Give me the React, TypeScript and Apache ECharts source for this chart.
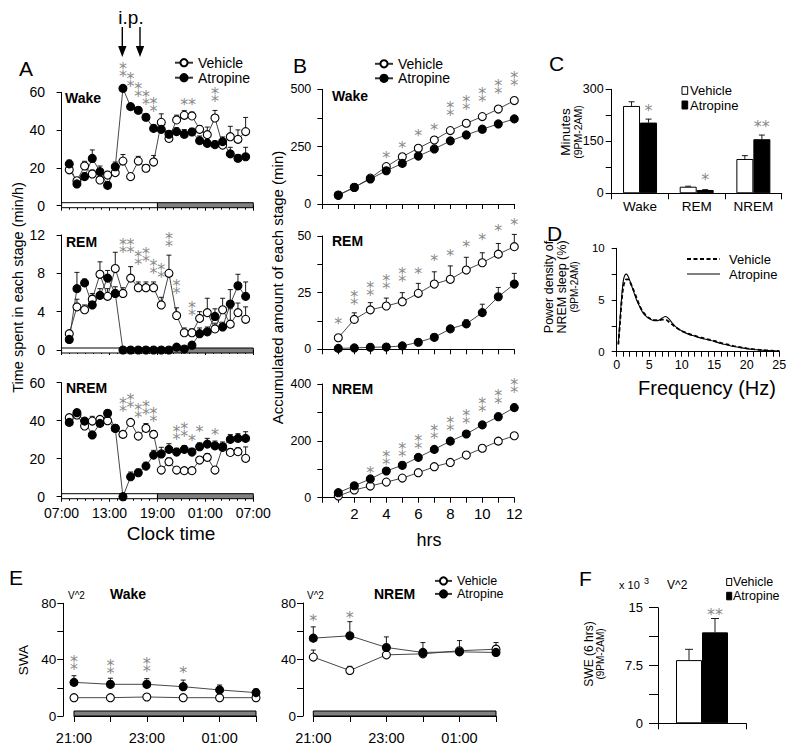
import React, { useEffect, useRef } from 'react';
import * as echarts from 'echarts';

const FONT = '"Liberation Sans", Arial, Helvetica, sans-serif';
const STAR_FONT = '"DejaVu Sans", "Liberation Sans", sans-serif';
const S = '*';
const P = '\u2051';
const PH = '**';

// ---------------- Panel A: hourly amounts (index 1..24 after 07:00) ----------------
const aHours = [1, 2, 3, 4, 5, 6, 7, 8, 9, 10, 11, 12, 13, 14, 15, 16, 17, 18, 19, 20, 21, 22, 23, 24];
const clockLabels = ['07:00', '13:00', '19:00', '01:00', '07:00'];
const aLightDark = [[0, 12.5, 0], [12.5, 25, 1]];

const aWakeVeh = [19, 13.2, 21, 16.8, 13.6, 16.2, 17.5, 23.6, 15.4, 23.6, 19.8, 23.1, 44.1, 35.6, 45.4, 47.8, 47.5, 40.4, 37.6, 46.4, 32.1, 36.5, 35.1, 39.2];
const aWakeVehErr = [1.5, 1, 2.5, 2, 2, 2, 1.5, 3.5, 1.5, 2.5, 2, 3.5, 4.5, 2, 2.5, 2.5, 2, 2, 4, 4, 2, 5.5, 5, 7.5];
const aWakeAtr = [22.1, 11.5, 15.4, 25, 18, 10.8, 20.6, 62.1, 52.4, 50.5, 46.8, 40.9, 40.4, 37.8, 39.2, 37.8, 39, 34.4, 33, 32.3, 33.9, 27.4, 25.1, 25.9];
const aWakeAtrErr = [2, 1.5, 2, 4.5, 3, 1.5, 2.5, 1.5, 1.5, 1.5, 1.5, 2, 3, 2, 2, 2.5, 2, 2.5, 2, 2, 2.5, 3.5, 2, 5];
const aWakeStars = [[8, 71.3, P], [9, 66.2, P], [10, 60.7, P], [11, 56.8, P], [12, 52.8, P], [16, 55.9, S], [17, 55.9, S], [20, 58.2, P]];

const aRemVeh = [1.7, 4.5, 4.2, 5.3, 7.9, 5.6, 8.5, 5.9, 7.5, 6.5, 6.5, 6.5, 4.7, 8.0, 3.6, 1.8, 1.8, 3.3, 3.9, 2.2, 4.2, 2.7, 3.9, 3.2];
const aRemVehErr = [0.3, 0.8, 0.5, 0.6, 1.3, 0.8, 1.7, 0.6, 1.2, 0.6, 0.6, 0.6, 0.8, 1.9, 0.8, 0.5, 0.4, 0.7, 1.5, 0.6, 1.2, 1.6, 1.0, 1.3];
const aRemAtr = [1.1, 6.4, 7.0, 4.7, 5.7, 7.5, 5.9, 0, 0, 0, 0, 0, 0, 0, 0.3, 0.1, 0.5, 1.7, 1.9, 3.5, 2.4, 4.8, 6.7, 5.6];
const aRemAtrErr = [0.3, 1.7, 0.4, 1.0, 0.7, 0.8, 0.7, 0, 0, 0, 0, 0, 0, 0, 0.2, 0.1, 0.3, 0.6, 0.5, 0.8, 0.5, 1.5, 1.2, 1.5];
const aRemStars = [[8, 10.8, P], [9, 10.8, P], [10, 9.6, P], [11, 9.9, P], [12, 8.6, P], [13, 8.2, P], [14, 11.4, P], [15, 6.5, P], [17, 4.2, P]];

const aNremVeh = [41.6, 43, 37.2, 39.8, 40.7, 40, 36, 32.8, 39.1, 31.9, 36, 32.8, 14, 18.4, 14, 13.7, 13.7, 19.3, 20.7, 14, 26, 23.3, 23.7, 20.2];
const aNremVehErr = [1.5, 1.5, 1.5, 2.5, 1.5, 1.5, 1.5, 1.5, 1.5, 1.5, 2.5, 2, 1.5, 2, 1.5, 1.5, 1.5, 1.5, 2, 1.5, 2, 2, 2, 6];
const aNremAtr = [39.1, 44.2, 39.8, 32.5, 38.6, 43.9, 36, 0, 10.5, 12.6, 16.1, 21.9, 22.5, 24.9, 23.5, 24.9, 23.5, 26.3, 27.7, 26.8, 26.3, 30.2, 30.7, 30.7];
const aNremAtrErr = [1.5, 1, 1.5, 1.5, 1.5, 1, 1.5, 0, 2.5, 2, 2, 2.5, 3.5, 3, 2, 2, 2, 2, 3, 2.5, 2.5, 2.5, 2.5, 3.5];
const aNremStars = [[8, 48.2, P], [9, 50, P], [10, 44.7, P], [11, 46.5, P], [12, 43, P], [15, 33.3, P], [16, 35.1, P], [17, 31.9, S], [18, 36.5, S], [20, 34.7, S]];

// ---------------- Panel B: accumulated amounts ----------------
const bHours = [1, 2, 3, 4, 5, 6, 7, 8, 9, 10, 11, 12];
const bWakeVeh = [38, 72, 113, 163, 206, 243, 279, 320, 352, 381, 414, 451];
const bWakeVehErr = [3, 4, 5, 6, 6, 7, 8, 8, 9, 10, 10, 11];
const bWakeAtr = [39, 73, 109, 145, 177, 209, 240, 275, 301, 326, 349, 371];
const bWakeAtrErr = [3, 4, 5, 6, 6, 7, 8, 8, 9, 10, 10, 11];
const bWakeStars = [[4, 221, S], [5, 265, S], [6, 315, S], [7, 344, S], [8, 410, P], [9, 436, P], [10, 475, P], [11, 509, P], [12, 544, P]];

const bRemVeh = [5.1, 13.2, 17.4, 19.1, 21, 24.7, 28.8, 30.9, 35, 38.2, 42, 45.3];
const bRemVehErr = [0, 2.9, 3.2, 3.5, 4, 4.4, 5.4, 5.9, 5.6, 4.4, 4.7, 5.4];
const bRemAtr = [0.4, 0.6, 0.9, 1.0, 1.5, 3.1, 5.3, 9.0, 11.2, 16.2, 23.2, 28.8];
const bRemAtrErr = [0, 0, 0, 0, 0.3, 0.5, 0.6, 1.3, 1.8, 3.7, 4.1, 4.7];
const bRemStars = [[1, 13.2, S], [2, 22.5, P], [3, 26.2, P], [4, 29.6, P], [5, 32.5, P], [6, 35, S], [7, 40.9, S], [8, 43, S], [9, 47, S], [10, 50.4, S], [11, 54, S], [12, 57, S]];

const bNremVeh = [6, 27, 41, 55, 69, 88, 109, 124, 150, 174, 199, 218];
const bNremVehErr = [2, 3, 4, 4, 5, 6, 6, 7, 8, 8, 9, 9];
const bNremAtr = [17.6, 42, 66, 94, 114, 142, 170, 199, 224, 256, 285, 317];
const bNremAtrErr = [3, 4, 5, 6, 7, 8, 8, 9, 10, 11, 12, 12];
const bNremStars = [[3, 103, S], [4, 137, P], [5, 165, P], [6, 195, P], [7, 230, P], [8, 259, P], [9, 283, P], [10, 324, P], [11, 353, P], [12, 390, P]];

// ---------------- Panel C: minutes 9PM-2AM ----------------
const cCats = ['Wake', 'REM', 'NREM'];
const cVeh = [252, 19, 99];
const cVehErr = [12, 1.5, 9.6];
const cAtr = [204, 9.6, 156];
const cAtrErr = [10, 1, 12];
const cStars = [['Wake', 250, S], ['REM', 50, S], ['NREM', 204, PH]];

// ---------------- Panel D: NREM power spectrum ----------------
const dFreq = [0.25, 0.5, 0.75, 1, 1.25, 1.5, 1.75, 2, 2.5, 3, 3.5, 4, 4.5, 5, 5.5, 6, 6.5, 7, 7.5, 8, 8.5, 9, 10, 11, 12, 13, 14, 15, 16, 17, 18, 19, 20, 21, 22, 23, 24, 25];
const dVeh = [0.7, 2.7, 4.8, 6.2, 6.8, 7.0, 7.0, 6.8, 6.1, 5.3, 4.5, 3.9, 3.5, 3.25, 3.1, 3.05, 3.05, 3.1, 3.1, 2.9, 2.65, 2.4, 2.0, 1.75, 1.55, 1.35, 1.2, 1.05, 0.85, 0.7, 0.55, 0.43, 0.33, 0.25, 0.18, 0.13, 0.09, 0.07];
const dAtr = [0.8, 3.0, 5.2, 6.8, 7.4, 7.5, 7.3, 6.9, 6.0, 5.1, 4.4, 3.8, 3.45, 3.2, 3.05, 3.0, 3.05, 3.25, 3.4, 3.2, 2.8, 2.45, 2.0, 1.7, 1.5, 1.3, 1.15, 1.0, 0.8, 0.65, 0.5, 0.4, 0.3, 0.22, 0.16, 0.12, 0.08, 0.06];

// ---------------- Panel E: SWA ----------------
const eHours = [21, 22, 23, 24, 25, 26];
const eHourLabels = ['21:00', '', '23:00', '', '01:00', ''];
const eDark = [[21, 26, 1]];
const eWakeVeh = [13, 13, 13.5, 13, 13, 13];
const eWakeVehErr = [1, 1, 1, 1, 1, 1];
const eWakeAtr = [23.9, 22.5, 22.5, 20.8, 18.5, 16.6];
const eWakeAtrErr = [4.7, 4.3, 4, 4.7, 3.5, 2.6];
const eWakeStars = [[21, 37, P], [22, 34.5, P], [23, 35.7, P], [24, 33.4, S]];
const eNremVeh = [41.7, 32.2, 43.3, 44, 46.2, 47.3];
const eNremVehErr = [5, 3, 2, 2, 2, 2];
const eNremAtr = [55.1, 56.8, 48.5, 45, 45.4, 45];
const eNremAtrErr = [8, 10, 7.5, 7, 8, 7];
const eNremStars = [[21, 70.5, S], [22, 72.4, S]];

// ---------------- Panel F: SWE ----------------
const fCats = ['SWE'];
const fVeh = [8.2];
const fVehErr = [1.4];
const fAtr = [11.8];
const fAtrErr = [1.8];
const fStars = [['SWE', 14.6, PH]];

// ---------------- helpers ----------------
const lineSeries = (name: string, gi: number, xs: any[], ys: number[], filled: boolean) => ({
  type: 'line', name, xAxisIndex: gi, yAxisIndex: gi,
  data: xs.map((x, i) => [x, ys[i]]),
  symbol: 'circle', symbolSize: 8, showSymbol: true, clip: false, z: 4, silent: true,
  lineStyle: { color: '#333', width: 0.9 },
  itemStyle: { color: filled ? '#000' : '#fff', borderColor: '#000', borderWidth: 1.1 },
});

const errSeries = (gi: number, xs: any[], ys: number[], es: number[], dx = 0, cap = 5) => ({
  type: 'custom', xAxisIndex: gi, yAxisIndex: gi, z: 3, silent: true,
  data: xs.map((x, i) => [x, ys[i], es[i]]),
  renderItem: (params: any, api: any) => {
    const e = api.value(2);
    if (!e) return null;
    const p0 = api.coord([api.value(0), api.value(1)]);
    const p1 = api.coord([api.value(0), api.value(1) + e]);
    const x = p0[0] + dx;
    return {
      type: 'group',
      children: [
        { type: 'line', shape: { x1: x, y1: p0[1], x2: x, y2: p1[1] }, style: { stroke: '#000', lineWidth: 0.9 } },
        { type: 'line', shape: { x1: x - cap / 2, y1: p1[1], x2: x + cap / 2, y2: p1[1] }, style: { stroke: '#000', lineWidth: 0.9 } },
      ],
    };
  },
});

const starSeries = (gi: number, stars: any[], dx = 0) => ({
  type: 'scatter', xAxisIndex: gi, yAxisIndex: gi, z: 5, silent: true, clip: false,
  symbol: 'circle', symbolSize: 0.1,
  itemStyle: { color: 'rgba(0,0,0,0)' },
  data: stars.map((s) => ({
    value: [s[0], s[1]], name: s[2],
    label: { offset: [dx, s[2] === P ? 1 : 4] },
  })),
  label: {
    show: true, position: 'inside', formatter: '{b}', color: '#666666',
    fontSize: 16, fontFamily: STAR_FONT,
  },
});

const dayBar = (gi: number, ranges: number[][], dy: number, h: number) => ({
  type: 'custom', xAxisIndex: gi, yAxisIndex: gi, z: 3, silent: true,
  data: ranges,
  renderItem: (params: any, api: any) => {
    const s = api.coord([api.value(0), 0]);
    const e = api.coord([api.value(1), 0]);
    return {
      type: 'rect',
      shape: { x: s[0], y: s[1] + dy, width: e[0] - s[0], height: h },
      style: { fill: api.value(2) ? '#808080' : '#ffffff', stroke: '#000', lineWidth: 1 },
    };
  },
});

const axLine = { show: true, lineStyle: { color: '#000', width: 1 } };
const tick = (len: number) => ({ show: true, length: len, lineStyle: { color: '#000', width: 1 } });
const lbl = (size: number, margin: number, extra: any = {}) => ({ color: '#000', fontSize: size, fontFamily: FONT, margin, ...extra });
const showOnly = (vals: number[]) => (v: number) => (vals.some((x) => Math.abs(x - v) < 1e-6) ? String(v) : '');

const T = (text: string, x: number, y: number, size: number, o: any = {}) => ({
  type: 'text', x, y, rotation: o.rot ? Math.PI / 2 : 0, silent: true,
  style: {
    text, fontSize: size, fontFamily: FONT, fontWeight: o.bold ? 'bold' : 'normal',
    fill: '#000', align: o.align || 'left', verticalAlign: 'middle',
    ...(o.rich ? { rich: o.rich } : {}),
  },
});

function buildOption() {
  const grids = [
    { left: 61.6, top: 92.3, width: 191.7, height: 113.4 },
    { left: 61.6, top: 235, width: 191.7, height: 115 },
    { left: 61.6, top: 382.7, width: 191.7, height: 114 },
    { left: 322.3, top: 89.3, width: 192, height: 114.7 },
    { left: 322.3, top: 236, width: 192, height: 113.3 },
    { left: 322.3, top: 384, width: 192, height: 113.7 },
    { left: 611.7, top: 89.3, width: 170, height: 104 },
    { left: 616.7, top: 248.3, width: 162.6, height: 103.4 },
    { left: 74, top: 603.3, width: 182, height: 112.7 },
    { left: 313.3, top: 603, width: 182.7, height: 113 },
    { left: 658, top: 607.7, width: 88, height: 115.6 },
  ].map((g) => ({ ...g, outerBoundsMode: 'none', containLabel: false }));

  const aX = (gi: number, showLabels: boolean) => ({
    type: 'value', gridIndex: gi, min: 0, max: 25, interval: 6.25,
    axisLine: axLine, axisTick: tick(5), splitLine: { show: false },
    minorTick: { show: true, splitNumber: 6, length: 4, lineStyle: { color: '#000', width: 1 } },
    axisLabel: lbl(14, 9, { show: showLabels, formatter: (v: number) => clockLabels[Math.round(v / 6.25)] ?? '' }),
  });
  const aY = (gi: number, max: number, interval: number) => ({
    type: 'value', gridIndex: gi, min: 0, max, interval, offset: 8.6,
    axisLine: axLine, axisTick: tick(5), splitLine: { show: false },
    axisLabel: lbl(14, 8),
  });
  const bX = (gi: number, showLabels: boolean) => ({
    type: 'value', gridIndex: gi, min: 0, max: 12, interval: 1,
    axisLine: axLine, axisTick: tick(5), splitLine: { show: false },
    axisLabel: lbl(15, 8, { show: showLabels, formatter: (v: number) => (v > 0 && v % 2 === 0 ? String(v) : '') }),
  });
  const bY = (gi: number, max: number, interval: number, labels: number[]) => ({
    type: 'value', gridIndex: gi, min: 0, max, interval,
    axisLine: axLine, axisTick: tick(5), splitLine: { show: false },
    axisLabel: lbl(12.5, 11, { formatter: showOnly(labels) }),
  });
  const eX = (gi: number) => ({
    type: 'value', gridIndex: gi, min: 21, max: 26, interval: 1,
    axisLine: axLine, axisTick: tick(6), splitLine: { show: false },
    axisLabel: lbl(14.5, 14, { formatter: (v: number) => eHourLabels[Math.round(v - 21)] ?? '' }),
  });
  const eY = (gi: number, off: number) => ({
    type: 'value', gridIndex: gi, min: 0, max: 80, interval: 20, offset: off,
    axisLine: axLine, axisTick: tick(6), splitLine: { show: false },
    axisLabel: lbl(13.5, 7, { formatter: showOnly([0, 40, 80]) }),
  });

  const xAxis = [
    aX(0, false), aX(1, false), aX(2, true),
    bX(3, false), bX(4, false), bX(5, true),
    {
      type: 'category', gridIndex: 6, data: cCats, axisLine: axLine, axisTick: tick(6),
      axisLabel: lbl(13.5, 6.5),
    },
    {
      type: 'value', gridIndex: 7, min: 0, max: 25, interval: 5, axisLine: axLine, axisTick: tick(5),
      minorTick: { show: true, splitNumber: 5, length: 5, lineStyle: { color: '#000', width: 1 } },
      splitLine: { show: false }, axisLabel: lbl(12.5, 7),
    },
    eX(8), eX(9),
    {
      type: 'category', gridIndex: 10, data: fCats, axisLine: axLine, axisTick: tick(6),
      axisLabel: { show: false },
    },
  ];
  const yAxis = [
    aY(0, 60, 20), aY(1, 12, 4), aY(2, 60, 20),
    bY(3, 500, 125, [0, 250, 500]), bY(4, 50, 12.5, [0, 25, 50]), bY(5, 400, 100, [0, 200, 400]),
    {
      type: 'value', gridIndex: 6, min: 0, max: 300, interval: 75, axisLine: axLine, axisTick: tick(6),
      splitLine: { show: false }, axisLabel: lbl(12.5, 8, { formatter: showOnly([0, 150, 300]) }),
    },
    {
      type: 'value', gridIndex: 7, min: 0, max: 10, interval: 2.5, offset: 5, axisLine: axLine, axisTick: tick(5),
      splitLine: { show: false }, axisLabel: lbl(11.5, 7, { formatter: showOnly([0, 5, 10]) }),
    },
    eY(8, 10.7), eY(9, 10.3),
    {
      type: 'value', gridIndex: 10, min: 0, max: 15, interval: 3.75, axisLine: axLine, axisTick: tick(9),
      splitLine: { show: false }, axisLabel: lbl(13, 15, { formatter: showOnly([0, 7.5, 15]) }),
    },
  ];

  const series: any[] = [
    // line series first so that the legends take their style
    lineSeries('Vehicle', 0, aHours, aWakeVeh, false),
    lineSeries('Atropine', 0, aHours, aWakeAtr, true),
    lineSeries('Vehicle', 1, aHours, aRemVeh, false),
    lineSeries('Atropine', 1, aHours, aRemAtr, true),
    lineSeries('Vehicle', 2, aHours, aNremVeh, false),
    lineSeries('Atropine', 2, aHours, aNremAtr, true),
    lineSeries('Vehicle', 3, bHours, bWakeVeh, false),
    lineSeries('Atropine', 3, bHours, bWakeAtr, true),
    lineSeries('Vehicle', 4, bHours, bRemVeh, false),
    lineSeries('Atropine', 4, bHours, bRemAtr, true),
    lineSeries('Vehicle', 5, bHours, bNremVeh, false),
    lineSeries('Atropine', 5, bHours, bNremAtr, true),
    lineSeries('Vehicle', 8, eHours, eWakeVeh, false),
    lineSeries('Atropine', 8, eHours, eWakeAtr, true),
    lineSeries('Vehicle', 9, eHours, eNremVeh, false),
    lineSeries('Atropine', 9, eHours, eNremAtr, true),

    errSeries(0, aHours, aWakeVeh, aWakeVehErr), errSeries(0, aHours, aWakeAtr, aWakeAtrErr),
    errSeries(1, aHours, aRemVeh, aRemVehErr), errSeries(1, aHours, aRemAtr, aRemAtrErr),
    errSeries(2, aHours, aNremVeh, aNremVehErr), errSeries(2, aHours, aNremAtr, aNremAtrErr),
    errSeries(3, bHours, bWakeVeh, bWakeVehErr), errSeries(3, bHours, bWakeAtr, bWakeAtrErr),
    errSeries(4, bHours, bRemVeh, bRemVehErr), errSeries(4, bHours, bRemAtr, bRemAtrErr),
    errSeries(5, bHours, bNremVeh, bNremVehErr), errSeries(5, bHours, bNremAtr, bNremAtrErr),
    errSeries(8, eHours, eWakeVeh, eWakeVehErr), errSeries(8, eHours, eWakeAtr, eWakeAtrErr),
    errSeries(9, eHours, eNremVeh, eNremVehErr), errSeries(9, eHours, eNremAtr, eNremAtrErr),

    dayBar(0, aLightDark, -3, 5), dayBar(1, aLightDark, -2, 5), dayBar(2, aLightDark, -3, 5),
    dayBar(8, eDark, -5, 5), dayBar(9, eDark, -5, 5),

    starSeries(0, aWakeStars), starSeries(1, aRemStars), starSeries(2, aNremStars),
    starSeries(3, bWakeStars), starSeries(4, bRemStars), starSeries(5, bNremStars),
    starSeries(8, eWakeStars), starSeries(9, eNremStars),

    // Panel C bars
    {
      type: 'bar', name: 'Vehicle', xAxisIndex: 6, yAxisIndex: 6, data: cVeh, barWidth: 17, barGap: '0%', z: 2, silent: true,
      itemStyle: { color: '#fff', borderColor: '#000', borderWidth: 1 },
    },
    {
      type: 'bar', name: 'Atropine', xAxisIndex: 6, yAxisIndex: 6, data: cAtr, barWidth: 17, barGap: '0%', z: 2, silent: true,
      itemStyle: { color: '#000', borderColor: '#000', borderWidth: 1 },
    },
    errSeries(6, cCats, cVeh, cVehErr, -8.5, 6), errSeries(6, cCats, cAtr, cAtrErr, 8.5, 6),
    starSeries(6, cStars, 8.5),

    // Panel D spectra
    {
      type: 'line', name: 'Vehicle', xAxisIndex: 7, yAxisIndex: 7, data: dFreq.map((f, i) => [f, dVeh[i]]),
      showSymbol: false, smooth: 0.3, z: 3, silent: true, clip: false,
      lineStyle: { color: '#000', width: 1.8, type: [4, 2.5] },
    },
    {
      type: 'line', name: 'Atropine', xAxisIndex: 7, yAxisIndex: 7, data: dFreq.map((f, i) => [f, dAtr[i]]),
      showSymbol: false, smooth: 0.3, z: 4, silent: true, clip: false,
      lineStyle: { color: '#000', width: 1.1 },
    },

    // Panel F bars
    {
      type: 'bar', name: 'Vehicle', xAxisIndex: 10, yAxisIndex: 10, data: fVeh, barWidth: 26, barGap: '0%', z: 2, silent: true,
      itemStyle: { color: '#fff', borderColor: '#000', borderWidth: 1 },
    },
    {
      type: 'bar', name: 'Atropine', xAxisIndex: 10, yAxisIndex: 10, data: fAtr, barWidth: 26, barGap: '0%', z: 2, silent: true,
      itemStyle: { color: '#000', borderColor: '#000', borderWidth: 1 },
    },
    errSeries(10, fCats, fVeh, fVehErr, -13, 8), errSeries(10, fCats, fAtr, fAtrErr, 13, 8),
    starSeries(10, fStars, 13),
  ];

  const legendBase = (left: number, top: number, fs: number, lh: number, gap: number) => ({
    left, top, orient: 'vertical', padding: 0, itemGap: gap, itemWidth: 18, itemHeight: 9,
    selectedMode: false, data: ['Vehicle', 'Atropine'],
    textStyle: { fontSize: fs, fontFamily: FONT, color: '#000', lineHeight: lh },
  });

  const arrow = (x: number) => [
    { type: 'line', silent: true, shape: { x1: x, y1: 27, x2: x, y2: 50 }, style: { stroke: '#000', lineWidth: 1.4 } },
    { type: 'polygon', silent: true, shape: { points: [[x - 4.2, 46], [x + 4.2, 46], [x, 57]] }, style: { fill: '#000' } },
  ];

  const yRich = (a: number, b: number) => ({
    a: { fontSize: a, fontFamily: FONT, fill: '#000', lineHeight: a + 0.5 },
    b: { fontSize: b, fontFamily: FONT, fill: '#000', lineHeight: b + 1 },
  });

  const graphic = [
    T('A', 19, 68, 21), T('B', 293, 65, 21), T('C', 549, 63, 21), T('D', 547, 233, 21), T('E', 9, 577, 21), T('F', 579, 578, 21),
    T('i.p.', 131, 17, 19, { align: 'center' }),
    ...arrow(122.3), ...arrow(140),
    T('Wake', 65, 98, 14, { bold: true }), T('REM', 66, 242, 14, { bold: true }), T('NREM', 66, 388, 14, { bold: true }),
    T('Wake', 332, 96, 14, { bold: true }), T('REM', 332, 240.5, 14, { bold: true }), T('NREM', 332, 389, 14, { bold: true }),
    T('Wake', 110, 594, 14, { bold: true }), T('NREM', 374, 594, 14, { bold: true }),
    T('Time spent in each stage (min/h)', 18, 287.5, 14.5, { rot: true, align: 'center' }),
    T('Clock time', 171, 533, 19, { align: 'center' }),
    T('Accumulated amount of each stage (min)', 277.5, 287.5, 15, { rot: true, align: 'center' }),
    T('hrs', 429, 540, 18, { align: 'center' }),
    T('{a|Minutes}\n{b|(9PM-2AM)}', 571, 132, 13, { rot: true, align: 'center', rich: yRich(13.5, 10.5) }),
    T('{a|Power density of}\n{a|NREM sleep (%)}\n{b|(9PM-2AM)}', 561, 287, 12, { rot: true, align: 'center', rich: yRich(12.5, 10) }),
    T('Frequency (Hz)', 707, 388, 20, { align: 'center' }),
    T('SWA', 23, 660, 13.5, { rot: true, align: 'center' }),
    T('V^2', 68, 595, 10), T('V^2', 307, 595, 10),
    T('{a|SWE (6 hrs)}\n{b|(9PM-2AM)}', 594.5, 654, 12, { rot: true, align: 'center', rich: yRich(12, 10) }),
    T('x 10', 619, 585, 11), T('3', 644, 581, 9), T('V^2', 667, 585, 12),
    // Panel C legend
    { type: 'rect', silent: true, shape: { x: 682, y: 86.7, width: 5.7, height: 7.6 }, style: { fill: '#fff', stroke: '#000', lineWidth: 1 } },
    T('Vehicle', 690, 90.5, 13),
    { type: 'rect', silent: true, shape: { x: 682, y: 101, width: 5.7, height: 8 }, style: { fill: '#000', stroke: '#000', lineWidth: 1 } },
    T('Atropine', 690, 105, 13),
    // Panel D legend
    { type: 'line', silent: true, shape: { x1: 687, y1: 259, x2: 720, y2: 259 }, style: { stroke: '#000', lineWidth: 2, lineDash: [4, 2.5] } },
    T('Vehicle', 729, 259, 13),
    { type: 'line', silent: true, shape: { x1: 687, y1: 274, x2: 720, y2: 274 }, style: { stroke: '#000', lineWidth: 1 } },
    T('Atropine', 729, 274, 13),
    // Panel F legend
    { type: 'rect', silent: true, shape: { x: 726.7, y: 578.5, width: 5, height: 7 }, style: { fill: '#fff', stroke: '#000', lineWidth: 1 } },
    T('Vehicle', 733, 582, 12.5),
    { type: 'rect', silent: true, shape: { x: 726.7, y: 592.3, width: 5, height: 7.5 }, style: { fill: '#000', stroke: '#000', lineWidth: 1 } },
    T('Atropine', 733, 596, 12.5),
  ];

  return {
    animation: false,
    backgroundColor: '#ffffff',
    textStyle: { fontFamily: FONT },
    grid: grids,
    xAxis,
    yAxis,
    legend: [
      legendBase(174, 55.7, 14, 14, 1),
      legendBase(374, 56.8, 14, 13, 0.5),
      { ...legendBase(434, 574.4, 12.5, 12.6, 0), itemWidth: 17 },
    ],
    graphic,
    series,
  };
}

export default function App() {
  const ref = useRef<HTMLDivElement>(null);
  useEffect(() => {
    document.body.style.margin = '0';
    if (!ref.current) return;
    const chart = echarts.init(ref.current, null, { renderer: 'svg' });
    chart.setOption(buildOption() as any);
    return () => chart.dispose();
  }, []);
  return <div ref={ref} style={{ width: 800, height: 756, background: '#fff' }} />;
}
